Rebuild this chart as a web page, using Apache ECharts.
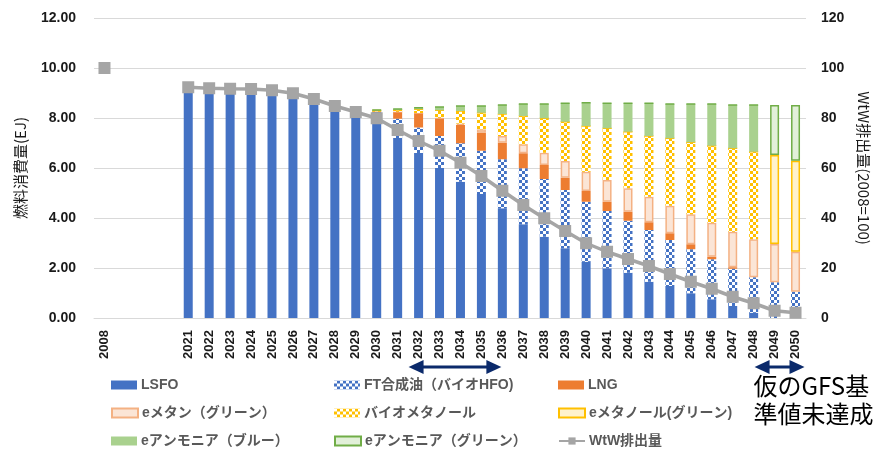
<!DOCTYPE html>
<html>
<head>
<meta charset="utf-8">
<script src="https://cdn.jsdelivr.net/npm/echarts@6/dist/echarts.min.js"></script>
<style>html,body{margin:0;padding:0;background:#fff;}#c{width:879px;height:451px;}</style>
</head>
<body>
<div id="c"></div>
<script>
// ---- data ----
const categories = ['2008',' ','  ','   ','2021','2022','2023','2024','2025','2026','2027','2028','2029','2030','2031','2032','2033','2034','2035','2036','2037','2038','2039','2040','2041','2042','2043','2044','2045','2046','2047','2048','2049','2050'];
const lsfo =        [null,null,null,null, 9.1,9.08,9.06,9.05,9.0,8.9,8.7,8.5,8.33,8.26, 7.2,6.6,6.0,5.45,4.96,4.39,3.75,3.25,2.79,2.25, 1.99,1.81,1.45,1.28,0.99,0.75,0.48,0.21,0,0];
const ftOil =       [null,null,null,null, 0,0,0,0,0,0,0,0,0,0, 0.77,1.02,1.28,1.54,1.73,1.96,2.24,2.31,2.33,2.4, 2.29,2.08,2.07,1.84,1.76,1.6,1.49,1.42,1.43,1.05];
const lng =         [null,null,null,null, 0,0,0,0,0,0,0,0,0,0, 0.28,0.58,0.71,0.73,0.72,0.66,0.6,0.56,0.49,0.43, 0.37,0.36,0.31,0.27,0.2,0.1,0.06,0,0,0];
const eMethane =    [null,null,null,null, 0,0,0,0,0,0,0,0,0,0, 0,0,0.02,0.06,0.14,0.27,0.36,0.49,0.67,0.77, 0.87,0.94,1.02,1.1,1.2,1.36,1.42,1.52,1.53,1.6];
const bioMethanol = [null,null,null,null, 0,0,0,0,0,0,0,0,0,0.04, 0.07,0.15,0.3,0.5,0.66,0.88,1.13,1.38,1.57,1.83, 2.07,2.26,2.43,2.7,2.88,3.08,3.34,3.5,0,0];
const eMethanol =   [null,null,null,null, 0,0,0,0,0,0,0,0,0,0, 0,0,0,0,0,0,0,0,0,0, 0,0,0,0,0,0,0,0,3.56,3.64];
const nh3Blue =     [null,null,null,null, 0,0,0,0,0,0,0,0,0,0.02, 0.04,0.06,0.13,0.2,0.27,0.36,0.48,0.57,0.74,0.93, 1.0,1.14,1.31,1.37,1.53,1.67,1.73,1.87,0,0];
const nh3Green =    [null,null,null,null, 0,0,0,0,0,0,0,0,0,0, 0,0,0,0,0,0,0,0,0,0, 0,0,0,0,0,0,0,0,2.0,2.23];
const wtw =         [100,null,null,null, 92.3,91.9,91.7,91.6,91.1,89.9,87.6,84.8,82.4,79.9, 75.2,70.8,66.9,62.1,56.8,50.9,45.2,39.9,34.8,29.9, 26.5,23.6,20.8,17.6,14.5,11.7,8.5,5.9,2.9,2.1];
const leftTicks = {min:0, max:12, interval:2};
const rightTicks = {min:0, max:120, interval:20};
const names = ['LSFO','FT合成油（バイオHFO)','LNG','eメタン（グリーン）','バイオメタノール','eメタノール(グリーン)','eアンモニア（ブルー）','eアンモニア（グリーン）','WtW排出量'];

// ---- styling helpers ----
function checker(c1, c2, s){
  const cv = document.createElement('canvas');
  cv.width = 2*s; cv.height = 2*s;
  const g = cv.getContext('2d');
  g.fillStyle = c1; g.fillRect(0,0,2*s,2*s);
  g.fillStyle = c2; g.fillRect(0,0,s,s); g.fillRect(s,s,s,s);
  return {image: cv, repeat: 'repeat'};
}
const LATIN = "'Liberation Sans','Noto Sans CJK JP',sans-serif";
const JP = "'Noto Sans CJK JP','Liberation Sans',sans-serif";

const chart = echarts.init(document.getElementById('c'), null, {renderer:'canvas'});

function bar(name, data, itemStyle){
  return {name, type:'bar', stack:'fuel', data, barWidth:9, itemStyle, yAxisIndex:0, z:2};
}
const series = [
  bar(names[0], lsfo, {color:'#4472C4'}),
  bar(names[1], ftOil, {color: checker('#4472C4','#ffffff',3)}),
  bar(names[2], lng, {color:'#ED7D31'}),
  bar(names[3], eMethane, {color:'#FBE5D6', borderColor:'#F4B183', borderWidth:1.5}),
  bar(names[4], bioMethanol, {color: checker('#FFC000','#ffffff',3)}),
  bar(names[5], eMethanol, {color:'#FFF2CC', borderColor:'#FFC000', borderWidth:1.5}),
  bar(names[6], nh3Blue, {color:'#A9D18E'}),
  bar(names[7], nh3Green, {color:'#E2F0D9', borderColor:'#70AD47', borderWidth:1.5}),
  {name:names[8], type:'line', yAxisIndex:1, data:wtw, connectNulls:false,
   symbol:'rect', symbolSize:12, showSymbol:true,
   lineStyle:{color:'#A5A5A5', width:3.5}, itemStyle:{color:'#A5A5A5'}, z:5}
];

const legendCols = [111, 334, 558];
const legendRows = [378, 406, 434];
const legends = names.map((n,i)=>{
  const l = {
    data:[n], left: legendCols[i%3], top: legendRows[Math.floor(i/3)],
    itemWidth:26, itemHeight:9, itemGap:0, padding:0,
    textStyle:{fontSize:14, fontWeight:'bold', color:'#595959', fontFamily:LATIN, padding:[0,0,0,-1]},
    selectedMode:false
  };
  if (i < 8) l.icon = 'rect';
  return l;
});

chart.setOption({
  animation:false,
  backgroundColor:'#ffffff',
  grid:{left:94, right:71, top:18, bottom:133, containLabel:false},
  legend: legends,
  xAxis:{type:'category', data:categories,
    axisTick:{show:false},
    axisLine:{lineStyle:{color:'#D9D9D9', width:1}},
    axisLabel:{rotate:90, interval:0, margin:12, fontSize:13, fontWeight:'bold', color:'#1a1a1a', fontFamily:LATIN}},
  yAxis:[
    {type:'value', min:leftTicks.min, max:leftTicks.max, interval:leftTicks.interval,
     axisLabel:{formatter:v=>v.toFixed(2), fontSize:14, fontWeight:'bold', color:'#1a1a1a', margin:18, fontFamily:LATIN},
     splitLine:{lineStyle:{color:'#D9D9D9', width:1}},
     axisLine:{show:false}, axisTick:{show:false},
     name:'燃料消費量(EJ)', nameLocation:'middle', nameGap:66,
     nameTextStyle:{fontSize:15, color:'#1a1a1a', fontFamily:JP}},
    {type:'value', position:'right', min:rightTicks.min, max:rightTicks.max, interval:rightTicks.interval,
     axisLabel:{fontSize:14, fontWeight:'bold', color:'#1a1a1a', margin:15, fontFamily:LATIN},
     splitLine:{show:false}, axisLine:{show:false}, axisTick:{show:false},
     name:'WtW排出量(2008=100)', nameLocation:'middle', nameGap:50, nameRotate:-90,
     nameTextStyle:{fontSize:15, color:'#1a1a1a', fontFamily:JP}}
  ],
  series
});

// ---- annotations (arrows + note), positioned from category axis ----
function px(cat){ return chart.convertToPixel({xAxisIndex:0}, cat); }
const AC = '#0B2A6B';
function dblArrow(x1, x2, y){
  const hl = 15, hh = 7;
  return [
    {type:'line', shape:{x1:x1+hl-2, y1:y, x2:x2-hl+2, y2:y}, style:{stroke:AC, lineWidth:3}, z:100},
    {type:'polygon', shape:{points:[[x1,y],[x1+hl,y-hh],[x1+hl,y+hh]]}, style:{fill:AC}, z:100},
    {type:'polygon', shape:{points:[[x2,y],[x2-hl,y-hh],[x2-hl,y+hh]]}, style:{fill:AC}, z:100}
  ];
}
const ay = 367;
const g = [].concat(
  dblArrow(px('2032')-10, px('2036')-1, ay),
  dblArrow(px('2049')-20, px('2050')+9, ay),
  [{type:'text', left: px('2049')-21, top: 372, z:100,
    style:{text:'仮のGFS基\n準値未達成', fontSize:24, lineHeight:28, fill:'#000', fontFamily:JP}}]
);
chart.setOption({graphic: g});
</script>
</body>
</html>
